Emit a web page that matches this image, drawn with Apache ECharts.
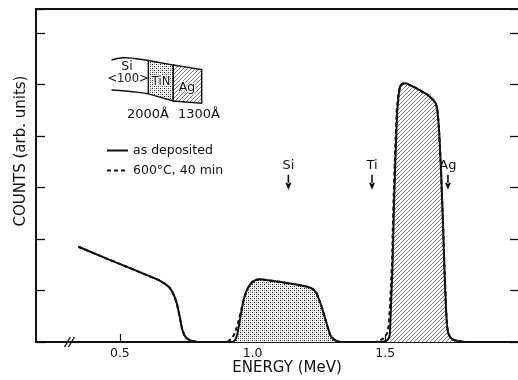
<!DOCTYPE html>
<html><head><meta charset="utf-8">
<script src="https://cdn.jsdelivr.net/npm/echarts@6/dist/echarts.min.js"></script>
<style>html,body{margin:0;padding:0;background:#fff}#c{width:518px;height:380px}</style>
</head><body><div id="c"></div>
<script>
// ---- data ----
const xLabelValues = [0.5, 1.0, 1.5];
const seriesNames = ['as deposited', '600\u00b0C, 40 min'];
const siEdge = [[0.344,1.85],[0.45,1.62],[0.55,1.41],[0.647,1.20],[0.670,1.13],[0.685,1.07],[0.697,0.98],[0.706,0.88],[0.715,0.74],[0.721,0.60],[0.727,0.45],[0.734,0.26],[0.742,0.14],[0.752,0.07],[0.765,0.03],[0.79,0.0]];
const tinDeposited = [[0.925,0],[0.935,0.04],[0.942,0.14],[0.948,0.30],[0.957,0.57],[0.966,0.82],[0.976,0.98],[0.988,1.10],[1.000,1.17],[1.015,1.21],[1.030,1.22],[1.10,1.17],[1.17,1.11],[1.210,1.07],[1.229,1.02],[1.241,0.95],[1.250,0.83],[1.260,0.69],[1.270,0.52],[1.279,0.36],[1.292,0.14],[1.300,0.08],[1.312,0.03],[1.330,0]];
const agDeposited = [[1.490,0],[1.503,0.02],[1.512,0.06],[1.517,0.14],[1.520,0.50],[1.524,1.05],[1.527,1.40],[1.533,2.70],[1.539,3.67],[1.545,4.50],[1.551,4.83],[1.556,4.97],[1.565,5.02],[1.580,5.02],[1.62,4.92],[1.66,4.80],[1.679,4.71],[1.690,4.64],[1.696,4.52],[1.700,4.30],[1.704,3.99],[1.710,3.34],[1.717,2.37],[1.723,1.40],[1.729,0.62],[1.733,0.30],[1.737,0.17],[1.745,0.09],[1.754,0.05],[1.773,0.02],[1.80,0]];
const tinAnnealed = [[0.895,0],[0.910,0.02],[0.922,0.07],[0.932,0.16],[0.940,0.28],[0.948,0.42],[0.957,0.62],[0.966,0.82],[0.976,0.98],[0.988,1.10],[1.000,1.17],[1.015,1.21],[1.030,1.22],[1.10,1.17],[1.17,1.11],[1.210,1.07],[1.229,1.02],[1.241,0.95],[1.250,0.83],[1.260,0.69],[1.270,0.52],[1.279,0.36],[1.292,0.14],[1.300,0.08],[1.312,0.03],[1.330,0]];
const agAnnealed = [[1.465,0],[1.478,0.02],[1.490,0.06],[1.500,0.11],[1.508,0.18],[1.514,0.35],[1.518,0.75],[1.522,1.20],[1.525,1.50],[1.531,2.75],[1.537,3.70],[1.543,4.50],[1.550,4.85],[1.556,4.97],[1.565,5.02],[1.580,5.02],[1.62,4.92],[1.66,4.80],[1.679,4.71],[1.690,4.64],[1.696,4.52],[1.700,4.30],[1.704,3.99],[1.710,3.34],[1.717,2.37],[1.723,1.40],[1.729,0.62],[1.733,0.30],[1.737,0.17],[1.745,0.09],[1.754,0.05],[1.773,0.02],[1.80,0]];
const spectrumEnd = [[2.0, 0]];
const edgeNames = ['Si', 'Ti', 'Ag'];
const edgeEnergies = [1.135, 1.450, 1.736];
const arrowLevel = 3.10;
const breakAt = 0.31;

// ---- styles ----
const FONT = 'DejaVu Sans';
const INK = '#111';
function stipple() {
  const c = document.createElement('canvas'); c.width = 4; c.height = 4;
  const g = c.getContext('2d');
  g.fillStyle = '#fff'; g.fillRect(0,0,4,4);
  g.fillStyle = '#222'; g.fillRect(0,0,1,1); g.fillRect(2,2,1,1);
  g.fillStyle = '#888'; g.fillRect(2,0,1,1); g.fillRect(0,2,1,1);
  return c;
}
function hatch() {
  const s = 4, c = document.createElement('canvas'); c.width = s; c.height = s;
  const g = c.getContext('2d');
  g.fillStyle = '#fff'; g.fillRect(0,0,s,s);
  g.strokeStyle = '#555'; g.lineWidth = 0.8;
  g.beginPath();
  g.moveTo(0,s); g.lineTo(s,0);
  g.moveTo(-1,1); g.lineTo(1,-1);
  g.moveTo(s-1,s+1); g.lineTo(s+1,s-1);
  g.stroke();
  return c;
}
const dotPat = {image: stipple(), repeat: 'repeat'};
const hatchPat = {image: hatch(), repeat: 'repeat'};
const arrowPath = 'path://M2.2,0 H3.8 V9 H2.2 Z M0,8 L3,15 L6,8 Z';

const chart = echarts.init(document.getElementById('c'), null, {renderer: 'canvas'});
const solidData = siEdge.concat(tinDeposited, agDeposited, spectrumEnd);
const dashedData = siEdge.concat(tinAnnealed, agAnnealed, spectrumEnd);

chart.setOption({
  animation: false,
  backgroundColor: '#fff',
  grid: {left: 36, top: 9, right: -2, bottom: 38, show: false},
  xAxis: [{
    type: 'value', min: 0.184, max: 2.0, position: 'bottom',
    axisLine: {show: true, onZero: false, lineStyle: {color: INK, width: 1.8}},
    axisTick: {show: true, inside: true, length: 8, lineStyle: {color: INK, width: 1.2}, customValues: xLabelValues},
    axisLabel: {show: true, customValues: xLabelValues, formatter: v => v.toFixed(1), fontFamily: FONT, fontSize: 12.5, color: INK, margin: 5},
    splitLine: {show: false}
  }, {
    type: 'value', min: 0.184, max: 2.0, position: 'top',
    axisLine: {show: true, onZero: false, lineStyle: {color: INK, width: 2}},
    axisTick: {show: false}, axisLabel: {show: false}, splitLine: {show: false}
  }],
  yAxis: [
    {type: 'value', min: 0, max: 6.466, interval: 1, position: 'left',
     axisLine: {show: true, onZero: false, lineStyle: {color: INK, width: 2}},
     axisTick: {show: true, inside: true, length: 9, lineStyle: {color: INK, width: 1.3}},
     axisLabel: {show: false}, splitLine: {show: false}},
    {type: 'value', min: 0, max: 6.466, interval: 1, position: 'right',
     axisLine: {show: false, onZero: false},
     axisTick: {show: true, inside: true, length: 8, lineStyle: {color: INK, width: 1.3}},
     axisLabel: {show: false}, splitLine: {show: false}}
  ],
  legend: {
    data: seriesNames, orient: 'vertical', left: 101, top: 139,
    itemWidth: 21, itemHeight: 14, itemGap: 7,
    itemStyle: {opacity: 0},
    textStyle: {fontFamily: FONT, fontSize: 12.5, color: INK}
  },
  series: [
    {type: 'line', name: 'TiN', data: tinDeposited, symbol: 'none', lineStyle: {width: 0}, areaStyle: {color: dotPat, opacity: 1}, z: 1, silent: true},
    {type: 'line', name: 'Ag', data: agDeposited, symbol: 'none', lineStyle: {width: 0}, areaStyle: {color: hatchPat, opacity: 1}, z: 1, silent: true},
    {type: 'line', name: seriesNames[0], data: solidData, symbol: 'none', lineStyle: {color: INK, width: 2}, itemStyle: {color: INK}, z: 3},
    {type: 'line', name: seriesNames[1], data: dashedData, symbol: 'none', lineStyle: {color: INK, width: 2, type: [4, 3]}, itemStyle: {color: INK}, z: 4},
    {type: 'scatter', name: 'edges', symbol: arrowPath, symbolSize: [6, 15], itemStyle: {color: INK, opacity: 1}, z: 5, silent: true,
     data: edgeEnergies.map((e, i) => ({value: [e, arrowLevel], label: {formatter: edgeNames[i]}})),
     label: {show: true, position: 'top', distance: 3, fontFamily: FONT, fontSize: 13, color: INK, opacity: 1}}
  ]
});

const bp = chart.convertToPixel({gridIndex: 0}, [breakAt, 0]);
const t = {fontFamily: FONT, fill: INK};
chart.setOption({
  graphic: [
    {type: 'text', style: Object.assign({text: 'ENERGY (MeV)', fontSize: 15, x: 287, y: 368, align: 'center', verticalAlign: 'middle'}, t)},
    {type: 'text', x: 21, y: 151, rotation: Math.PI / 2, style: Object.assign({text: 'COUNTS (arb. units)', fontSize: 15, align: 'center', verticalAlign: 'middle'}, t)},
    {type: 'line', shape: {x1: bp[0] - 5, y1: bp[1] + 5, x2: bp[0] + 1, y2: bp[1] - 5}, style: {stroke: INK, lineWidth: 1.3}},
    {type: 'line', shape: {x1: bp[0] - 1, y1: bp[1] + 5, x2: bp[0] + 5, y2: bp[1] - 5}, style: {stroke: INK, lineWidth: 1.3}},
    {type: 'polygon', shape: {points: [[148.3,60.5],[173.3,65],[173.3,101],[148.3,93.8]]}, style: {fill: dotPat, stroke: INK, lineWidth: 1.4}},
    {type: 'polygon', shape: {points: [[173.3,65],[201.7,69.5],[201.7,103.3],[173.3,101]]}, style: {fill: hatchPat, stroke: INK, lineWidth: 1.4}},
    {type: 'polyline', shape: {points: [[111.5,60],[123,57.8],[136,58.8],[148.3,60.5]], smooth: 0.5}, style: {stroke: INK, lineWidth: 1.4, fill: null}},
    {type: 'polyline', shape: {points: [[111.5,90],[128,91.2],[140,92.6],[148.3,93.8]], smooth: 0.5}, style: {stroke: INK, lineWidth: 1.4, fill: null}},
    {type: 'text', style: Object.assign({text: 'Si', fontSize: 12.5, x: 127, y: 67, align: 'center', verticalAlign: 'middle'}, t)},
    {type: 'text', style: Object.assign({text: '<100>', fontSize: 11.5, x: 128, y: 79.5, align: 'center', verticalAlign: 'middle'}, t)},
    {type: 'text', style: Object.assign({text: 'TiN', fontSize: 11.5, x: 161, y: 82, align: 'center', verticalAlign: 'middle', stroke: '#fff', lineWidth: 2}, t)},
    {type: 'text', style: Object.assign({text: 'Ag', fontSize: 12.5, x: 187, y: 88, align: 'center', verticalAlign: 'middle', stroke: '#fff', lineWidth: 2}, t)},
    {type: 'text', style: Object.assign({text: '2000\u00c5', fontSize: 13, x: 148, y: 115, align: 'center', verticalAlign: 'middle'}, t)},
    {type: 'text', style: Object.assign({text: '1300\u00c5', fontSize: 13, x: 199, y: 115, align: 'center', verticalAlign: 'middle'}, t)}
  ]
});
</script></body></html>
